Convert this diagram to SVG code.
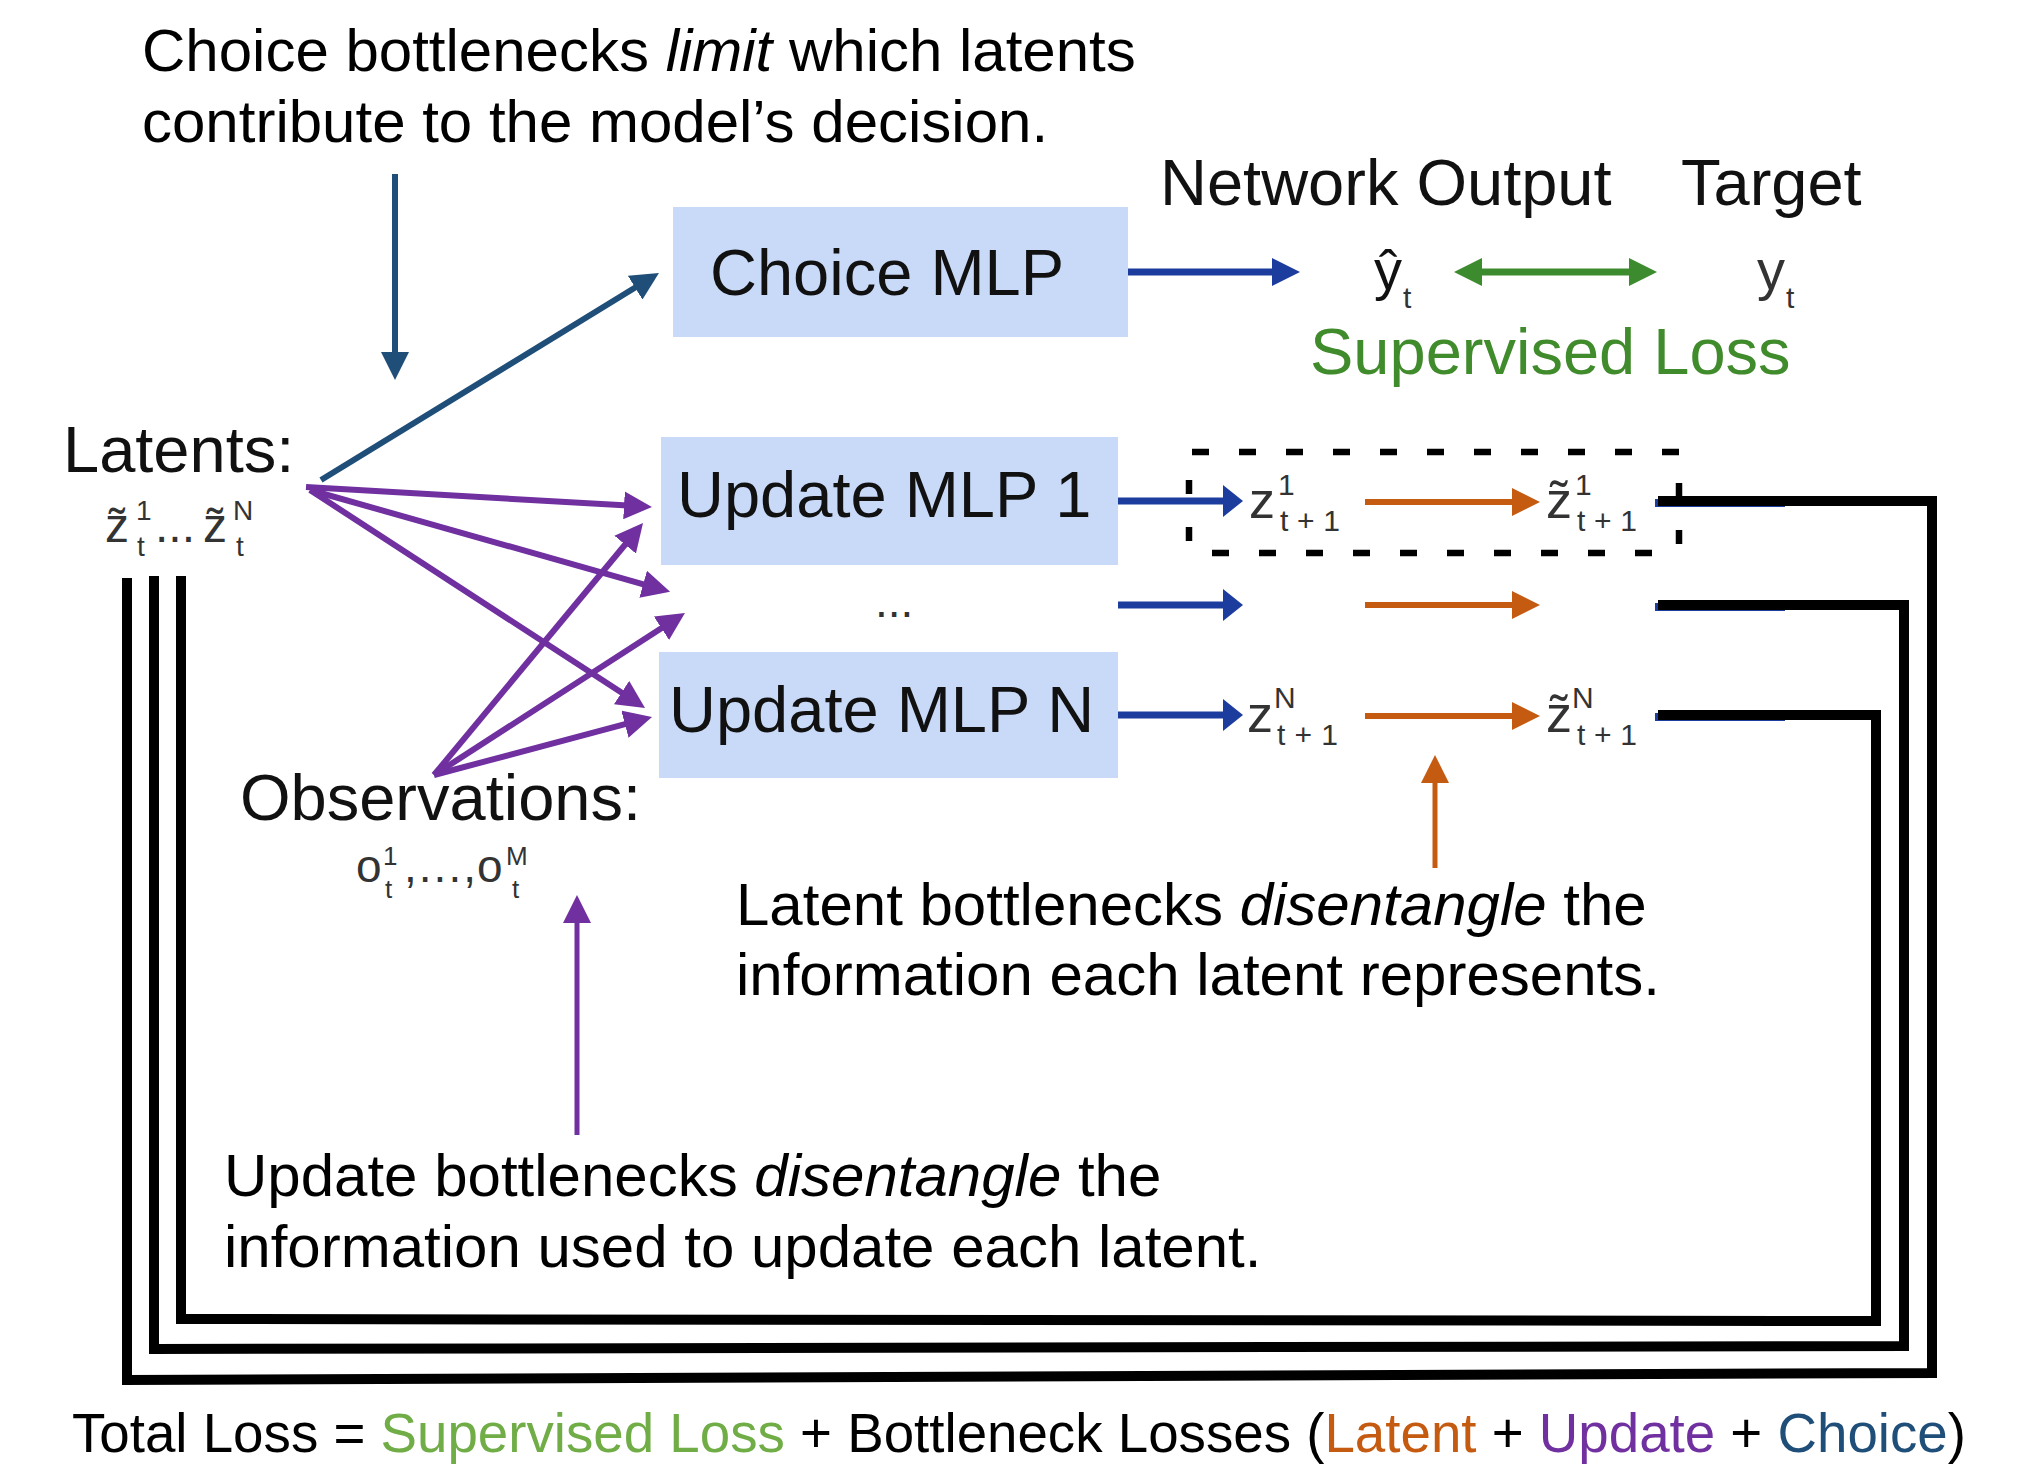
<svg xmlns="http://www.w3.org/2000/svg" width="2024" height="1470" viewBox="0 0 2024 1470">
<style>
text{font-family:"Liberation Sans",Arial,Helvetica,sans-serif}
.ann{font-size:60px;fill:#000}
.lbl{font-size:65px;fill:#111}
.m{fill:#333}
.box{fill:#c9daf8}
.loop{fill:none;stroke:#000;stroke-width:10;stroke-linejoin:miter}
.dash{stroke:#000;stroke-width:6.5;stroke-dasharray:17 30}
.vdash{stroke:#000;stroke-width:6.5;stroke-dasharray:14 33}
.pur{stroke:#7030a0;stroke-width:6;fill:none;marker-end:url(#mPur)}
.navy{stroke:#1f4e79;stroke-width:6;fill:none;marker-end:url(#mNavy)}
.blu{stroke:#1c3d9e;stroke-width:7;fill:none;marker-end:url(#mBlueS)}
.org{stroke:#c55a11;stroke-width:6;fill:none;marker-end:url(#mOrg)}
</style>
<defs>
<marker id="mPur" markerUnits="userSpaceOnUse" markerWidth="28" markerHeight="28" refX="4" refY="14" orient="auto"><path d="M0,0 L28,14 L0,28 z" fill="#7030a0"/></marker>
<marker id="mNavy" markerUnits="userSpaceOnUse" markerWidth="28" markerHeight="28" refX="4" refY="14" orient="auto"><path d="M0,0 L28,14 L0,28 z" fill="#1f4e79"/></marker>
<marker id="mBlue" markerUnits="userSpaceOnUse" markerWidth="28" markerHeight="28" refX="4" refY="14" orient="auto"><path d="M0,0 L28,14 L0,28 z" fill="#1c3d9e"/></marker>
<marker id="mBlueS" markerUnits="userSpaceOnUse" markerWidth="20" markerHeight="32" refX="4" refY="16" orient="auto"><path d="M0,0 L20,16 L0,32 z" fill="#1c3d9e"/></marker>
<marker id="mOrg" markerUnits="userSpaceOnUse" markerWidth="28" markerHeight="28" refX="4" refY="14" orient="auto"><path d="M0,0 L28,14 L0,28 z" fill="#c55a11"/></marker>
<marker id="mGrn" markerUnits="userSpaceOnUse" markerWidth="28" markerHeight="28" refX="4" refY="14" orient="auto-start-reverse"><path d="M0,0 L28,14 L0,28 z" fill="#3d8b2f"/></marker>
</defs>
<rect width="2024" height="1470" fill="#fff"/>

<g id="connectors">
  <!-- choice annotation arrow -->
  <line class="navy" x1="395" y1="174" x2="395" y2="356"/>
  <!-- latents to choice MLP -->
  <line class="navy" x1="321" y1="480" x2="638.5" y2="285.5"/>
  <!-- latents to update MLPs -->
  <line class="pur" x1="306" y1="487" x2="628" y2="505.6"/>
  <line class="pur" x1="310" y1="490" x2="647" y2="585.3"/>
  <line class="pur" x1="310" y1="490" x2="624.9" y2="694.8"/>
  <!-- observations to update MLPs -->
  <line class="pur" x1="434" y1="775" x2="627.7" y2="541.5"/>
  <line class="pur" x1="434" y1="775" x2="664.8" y2="626"/>
  <line class="pur" x1="434" y1="775" x2="628.8" y2="723.2"/>
  <!-- update annotation arrow -->
  <line class="pur" style="stroke-width:5" x1="577" y1="1135" x2="577" y2="919"/>
  <!-- choice output -->
  <line stroke="#1c3d9e" stroke-width="7" marker-end="url(#mBlue)" x1="1128" y1="272" x2="1276" y2="272"/>
  <!-- supervised loss double arrow -->
  <line stroke="#3d8b2f" stroke-width="7" marker-start="url(#mGrn)" marker-end="url(#mGrn)" x1="1478" y1="272" x2="1633" y2="272"/>
  <!-- update MLP outputs -->
  <line class="blu" x1="1118" y1="501" x2="1227" y2="501"/>
  <line class="blu" x1="1118" y1="605" x2="1227" y2="605"/>
  <line class="blu" x1="1118" y1="715" x2="1227" y2="715"/>
  <!-- latent bottleneck arrows -->
  <line class="org" x1="1365" y1="502" x2="1516" y2="502"/>
  <line class="org" x1="1365" y1="605" x2="1516" y2="605"/>
  <line class="org" x1="1365" y1="716" x2="1516" y2="716"/>
  <line class="org" style="stroke-width:5" x1="1435" y1="868" x2="1435" y2="779"/>
  <!-- faint blue remnants under feedback lines -->
  <g stroke="#1c3d9e" stroke-width="8">
    <line x1="1655" y1="503" x2="1785" y2="503"/>
    <line x1="1655" y1="607" x2="1785" y2="607"/>
    <line x1="1655" y1="717" x2="1785" y2="717"/>
  </g>
  <!-- feedback loops -->
  <path class="loop" d="M1658,501 H1932 V1373 L127,1380 V578"/>
  <path class="loop" d="M1658,605 H1904 V1346 L154,1349 V576"/>
  <path class="loop" d="M1658,715 H1876 V1321 L181,1319 V576"/>
  <!-- dashed bottleneck box -->
  <line class="dash" x1="1192" y1="452" x2="1681" y2="452"/>
  <line class="dash" x1="1212" y1="553" x2="1652" y2="553"/>
  <line class="vdash" x1="1189" y1="480" x2="1189" y2="545"/>
  <line class="vdash" x1="1679" y1="483" x2="1679" y2="548"/>
</g>

<g id="choice-mlp">
  <rect class="box" x="673" y="207" width="455" height="130"/>
  <text class="lbl" x="710" y="295">Choice MLP</text>
</g>
<g id="update-mlp-1">
  <rect class="box" x="661" y="437" width="457" height="128"/>
  <text class="lbl" x="677" y="517">Update MLP 1</text>
</g>
<g id="update-dots">
  <text x="875" y="617" font-size="46" class="m">...</text>
</g>
<g id="update-mlp-n">
  <rect class="box" x="659" y="652" width="459" height="126"/>
  <text class="lbl" x="669" y="732">Update MLP N</text>
</g>

<g id="latents">
  <text class="lbl" x="63" y="472">Latents:</text>
  <text class="m" x="105" y="542" font-size="48">z̃</text>
  <text class="m" x="136" y="520" font-size="28">1</text>
  <text class="m" x="137" y="556" font-size="28">t</text>
  <text class="m" x="155" y="542" font-size="48">...</text>
  <text class="m" x="203" y="542" font-size="48">z̃</text>
  <text class="m" x="233" y="520" font-size="28">N</text>
  <text class="m" x="236" y="556" font-size="28">t</text>
</g>

<g id="observations">
  <text class="lbl" x="240" y="820">Observations:</text>
  <text class="m" x="356" y="882" font-size="46">o</text>
  <text class="m" x="383" y="865" font-size="26">1</text>
  <text class="m" x="385" y="898" font-size="26">t</text>
  <text class="m" x="404" y="882" font-size="46" textLength="72">,...,</text>
  <text class="m" x="477" y="882" font-size="46">o</text>
  <text class="m" x="506" y="865" font-size="26">M</text>
  <text class="m" x="512" y="898" font-size="26">t</text>
</g>

<g id="network-output">
  <text class="lbl" x="1160" y="205">Network Output</text>
  <text class="m" x="1374" y="289" font-size="56" style="fill:#111">ŷ</text>
  <text class="m" x="1403" y="308" font-size="30">t</text>
</g>
<g id="target">
  <text class="lbl" x="1681" y="205">Target</text>
  <text class="m" x="1757" y="289" font-size="56">y</text>
  <text class="m" x="1786" y="308" font-size="30">t</text>
</g>
<g id="supervised-loss">
  <text class="lbl" x="1310" y="374" style="fill:#408b2b">Supervised Loss</text>
</g>

<g id="z1">
  <text class="m" x="1249" y="518" font-size="52">z</text>
  <text class="m" x="1278" y="495" font-size="30">1</text>
  <text class="m" x="1280" y="531" font-size="30" textLength="60">t+1</text>
</g>
<g id="zN">
  <text class="m" x="1247" y="732" font-size="52">z</text>
  <text class="m" x="1274" y="708" font-size="30">N</text>
  <text class="m" x="1277" y="745" font-size="30" textLength="61">t+1</text>
</g>
<g id="zt1">
  <text class="m" x="1546" y="518" font-size="52">z̃</text>
  <text class="m" x="1575" y="495" font-size="30">1</text>
  <text class="m" x="1577" y="531" font-size="30" textLength="60">t+1</text>
</g>
<g id="ztN">
  <text class="m" x="1546" y="732" font-size="52">z̃</text>
  <text class="m" x="1572" y="708" font-size="30">N</text>
  <text class="m" x="1577" y="745" font-size="30" textLength="60">t+1</text>
</g>

<g id="choice-annotation">
  <text class="ann" x="142" y="71">Choice bottlenecks <tspan font-style="italic">limit</tspan> which latents</text>
  <text class="ann" x="142" y="142">contribute to the model’s decision.</text>
</g>
<g id="latent-annotation">
  <text class="ann" x="736" y="925">Latent bottlenecks <tspan font-style="italic">disentangle</tspan> the</text>
  <text class="ann" x="736" y="995">information each latent represents.</text>
</g>
<g id="update-annotation">
  <text class="ann" x="224" y="1196">Update bottlenecks <tspan font-style="italic">disentangle</tspan> the</text>
  <text class="ann" x="224" y="1267">information used to update each latent.</text>
</g>
<g id="total-loss">
  <text x="72" y="1452" font-size="54.7" fill="#000">Total Loss = <tspan fill="#70ad47">Supervised Loss</tspan> + Bottleneck Losses (<tspan fill="#c55a11">Latent</tspan> + <tspan fill="#7030a0">Update</tspan> + <tspan fill="#1f4e79">Choice</tspan>)</text>
</g>
</svg>
